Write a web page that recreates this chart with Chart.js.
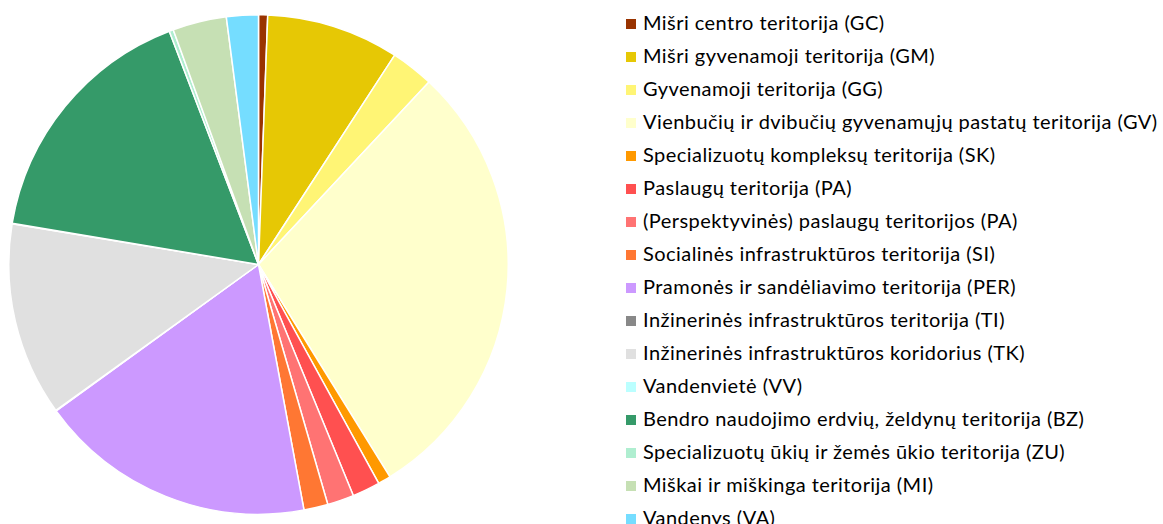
<!DOCTYPE html>
<html>
<head>
<meta charset="utf-8">
<script src="https://cdn.jsdelivr.net/npm/chart.js@4/dist/chart.umd.min.js"></script>
<style>
    html, body { margin: 0; padding: 0; background: #fff; overflow: hidden; }
    body { width: 1163px; height: 524px; position: relative; }
    #pieBox { position: absolute; left: 8px; top: 14px; width: 501px; height: 501px; }
    #legend { position: absolute; left: 626px; top: 6px; margin: 0; padding: 0; list-style: none;
              font-family: Lato, "Liberation Sans", sans-serif; font-size: 20px; letter-spacing: 0.45px; color: #000; }
    #legend li { height: 33px; line-height: 33px; white-space: nowrap; }
    #legend span.box { display: inline-block; width: 10px; height: 10px; margin-right: 7px; vertical-align: 1px; }
</style>
</head>
<body>
<div id="pieBox"><canvas id="landUseChart"></canvas></div>
<ul id="legend"></ul>
<script>
const labels = [
    'Mišri centro teritorija (GC)',
    'Mišri gyvenamoji teritorija (GM)',
    'Gyvenamoji teritorija (GG)',
    'Vienbučių ir dvibučių gyvenamųjų pastatų teritorija (GV)',
    'Specializuotų kompleksų teritorija (SK)',
    'Paslaugų teritorija (PA)',
    '(Perspektyvinės) paslaugų teritorijos (PA)',
    'Socialinės infrastruktūros teritorija (SI)',
    'Pramonės ir sandėliavimo teritorija (PER)',
    'Inžinerinės infrastruktūros teritorija (TI)',
    'Inžinerinės infrastruktūros koridorius (TK)',
    'Vandenvietė (VV)',
    'Bendro naudojimo erdvių, želdynų teritorija (BZ)',
    'Specializuotų ūkių ir žemės ūkio teritorija (ZU)',
    'Miškai ir miškinga teritorija (MI)',
    'Vandenys (VA)'
];

// share of area, %
const shares = [0.59, 8.6, 2.78, 29.25, 0.83, 1.8, 1.72, 1.56, 17.97, 0.03, 12.56, 0.03, 16.56, 0.27, 3.49, 2.06];

const colors = [
    '#993300', '#e6c805', '#fff575', '#ffffcc',
    '#ff9900', '#ff5050', '#ff7373', '#ff7733',
    '#cc99ff', '#888888', '#e0e0e0', '#bbffff',
    '#359a69', '#afeed0', '#c6e0b4', '#75ddff'
];

function buildLegend() {
    let html = '';
    labels.forEach((l, i) => {
        html += `<li><span class="box" style="background:${colors[i]}"></span>${l}</li>`;
    });
    document.getElementById('legend').innerHTML = html;
}

new Chart(document.getElementById('landUseChart'), {
    type: 'pie',
    data: {
        labels,
        datasets: [{
            data: shares,
            backgroundColor: colors,
            borderColor: '#ffffff',
            borderWidth: 1.5
        }]
    },
    options: {
        responsive: true,
        maintainAspectRatio: false,
        animation: false,
        layout: { padding: 0 },
        plugins: {
            legend: { display: false },
            tooltip: { enabled: false }
        }
    }
});

buildLegend();
</script>
</body>
</html>
